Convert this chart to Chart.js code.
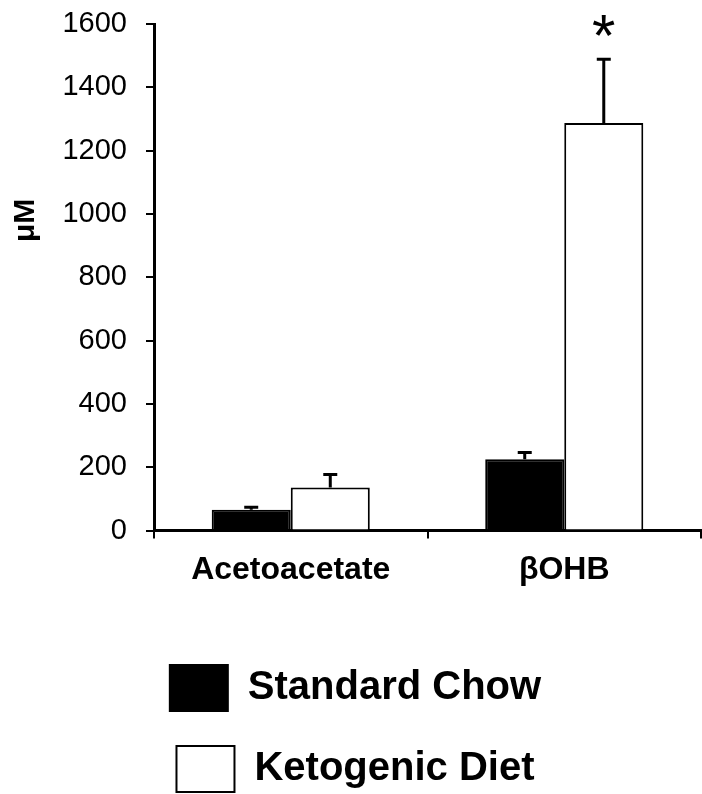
<!DOCTYPE html>
<html>
<head>
<meta charset="utf-8">
<script src="https://cdn.jsdelivr.net/npm/chart.js@4.4.1/dist/chart.umd.min.js"></script>
<style>
  html, body { margin: 0; padding: 0; background: #fff; overflow: hidden; }
  #wrap { width: 702px; height: 802px; }
</style>
</head>
<body>
<div id="wrap"><canvas id="grafica"></canvas></div>
<script>
// datos
const categorias = ['Acetoacetate', '\u03b2OHB'];
const nombresSeries = ['Standard Chow', 'Ketogenic Diet'];
const chow = [66, 225];
const chowErr = [8, 22];
const keto = [136, 1287];
const ketoErr = [41, 202];
const ketoMarcas = ['', '*'];
const yTicks = [0, 200, 400, 600, 800, 1000, 1200, 1400, 1600];
const yTitulo = '\u03bcM';

// barras de error, asterisco y titulo del eje y
const extras = {
    id: 'extras',
    afterDatasetsDraw(chart) {
        const ctx = chart.ctx;
        const y = chart.scales.y;
        [chowErr, ketoErr].forEach((errs, di) => {
            const meta = chart.getDatasetMeta(di);
            meta.data.forEach((bar, i) => {
                const top = y.getPixelForValue(chart.data.datasets[di].data[i] + errs[i]);
                ctx.save();
                ctx.strokeStyle = '#000';
                ctx.lineWidth = 3;
                ctx.beginPath();
                ctx.moveTo(bar.x, bar.y);
                ctx.lineTo(bar.x, top);
                ctx.moveTo(bar.x - 7, top);
                ctx.lineTo(bar.x + 7, top);
                ctx.stroke();
                if (di === 1 && ketoMarcas[i]) {
                    ctx.fillStyle = '#000';
                    ctx.font = '60px "Liberation Sans", Arial, sans-serif';
                    ctx.textAlign = 'center';
                    ctx.textBaseline = 'alphabetic';
                    ctx.fillText(ketoMarcas[i], bar.x, top - 3);
                }
                ctx.restore();
            });
        });
    },
    afterDraw(chart) {
        const ctx = chart.ctx;
        const y = chart.scales.y;
        ctx.save();
        ctx.translate(26, y.getPixelForValue(980));
        ctx.rotate(-Math.PI / 2);
        ctx.fillStyle = '#000';
        ctx.font = 'bold 30px "Liberation Sans", Arial, sans-serif';
        ctx.textAlign = 'center';
        ctx.textBaseline = 'middle';
        ctx.fillText(yTitulo, 0, 0);
        ctx.restore();
    }
};

new Chart(document.getElementById('grafica'), {
    type: 'bar',
    data: {
        labels: categorias,
        datasets: [
            {
                label: nombresSeries[0],
                data: chow,
                backgroundColor: '#000',
                borderColor: '#000',
                borderWidth: 2
            },
            {
                label: nombresSeries[1],
                data: keto,
                backgroundColor: '#fff',
                borderColor: '#000',
                borderWidth: 2
            }
        ]
    },
    options: {
        responsive: true,
        maintainAspectRatio: false,
        animation: false,
        categoryPercentage: 0.578,
        barPercentage: 1,
        layout: {
            padding: { left: 10, top: 0, right: 1, bottom: 0 }
        },
        plugins: {
            legend: {
                position: 'bottom',
                labels: {
                    color: '#000',
                    boxWidth: 58,
                    boxHeight: 46,
                    padding: 35,
                    font: { family: '"Liberation Sans", Arial, sans-serif', size: 40, weight: 'bold' }
                }
            },
            tooltip: { enabled: false },
            title: { display: false }
        },
        scales: {
            x: {
                afterFit: function(scale) {
                    scale.height = scale.height + 29;
                },
                grid: {
                    drawOnChartArea: false,
                    color: '#000',
                    lineWidth: 2,
                    tickLength: 8
                },
                border: { display: true, color: '#000', width: 3 },
                ticks: {
                    color: '#000',
                    padding: 12,
                    font: { family: '"Liberation Sans", Arial, sans-serif', size: 32, weight: 'bold' }
                }
            },
            y: {
                min: 0,
                max: 1600,
                afterBuildTicks: function(scale) {
                    scale.ticks = yTicks.map(v => ({ value: v }));
                },
                afterFit: function(scale) {
                    scale.width = 144;
                    scale.paddingTop = 24;
                },
                grid: {
                    drawOnChartArea: false,
                    color: '#000',
                    lineWidth: 2,
                    tickLength: 8
                },
                border: { display: true, color: '#000', width: 3 },
                ticks: {
                    color: '#000',
                    padding: 19,
                    callback: function(value) { return String(value); },
                    font: { family: '"Liberation Sans", Arial, sans-serif', size: 29, lineHeight: 1 }
                }
            }
        }
    },
    plugins: [extras]
});
</script>
</body>
</html>
